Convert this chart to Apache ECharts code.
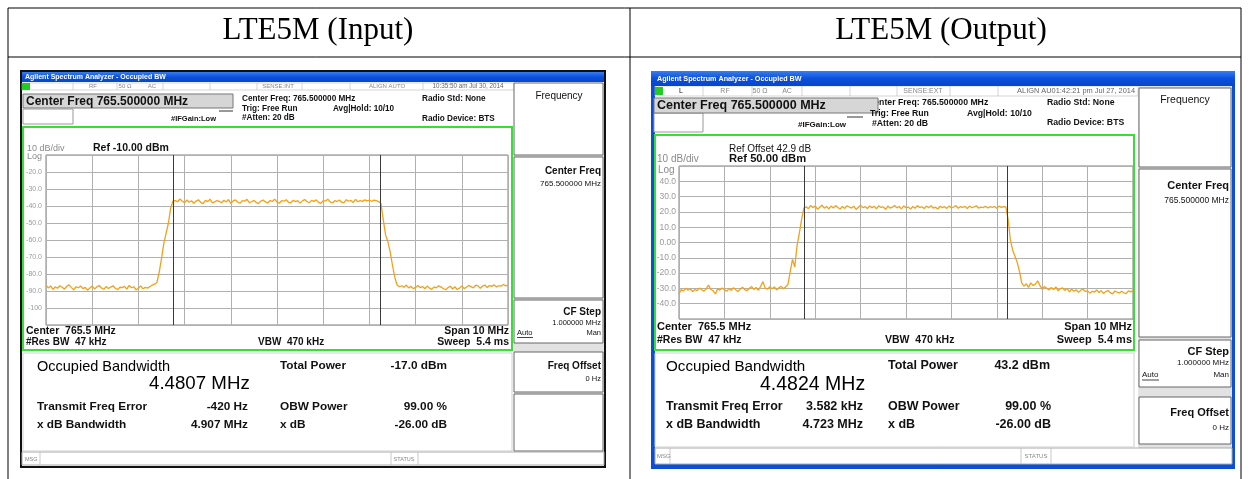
<!DOCTYPE html>
<html>
<head>
<meta charset="utf-8">
<title>LTE5M Occupied BW</title>
<script src="https://cdn.jsdelivr.net/npm/echarts@6/dist/echarts.min.js"></script>
<style>
  html, body { margin: 0; padding: 0; background: #fff; }
  #chart { width: 1249px; height: 479px; }
</style>
</head>
<body>
<div id="chart"></div>
<script>
// sweep: 10 MHz span around 765.5 MHz, one point every 50 kHz (201 points)
const spanMHz = 10;
const stepMHz = 0.05;

// input trace, dBm
const inputLevels = [
  -86.5,-88.2,-87.0,-89.1,-87.6,-88.4,-86.9,-87.8,-88.9,-87.2,
  -86.4,-88.0,-89.3,-87.5,-88.1,-87.0,-88.6,-87.9,-89.5,-88.3,
  -87.1,-88.8,-87.6,-86.8,-88.2,-89.0,-87.4,-88.5,-87.7,-86.9,
  -88.4,-89.2,-87.8,-88.0,-87.3,-88.9,-86.7,-88.1,-87.5,-89.4,
  -88.2,-87.0,-88.7,-87.9,-88.3,-87.4,-86.5,-86.0,
  -85.0,-79.0,-71.0,-62.0,-56.0,-50.0,-41.0,-37.0,
  -36.8,-37.5,-35.9,-37.2,-38.0,-36.5,-37.8,-36.9,-38.4,-37.1,
  -36.3,-37.9,-38.6,-36.7,-37.4,-36.0,-38.2,-37.6,-36.8,-37.3,
  -38.1,-36.6,-37.7,-36.2,-38.5,-37.0,-36.4,-37.8,-38.3,-36.9,
  -37.2,-36.1,-38.0,-37.5,-36.7,-37.9,-38.6,-37.1,-36.5,-37.6,
  -38.2,-36.8,-37.3,-36.0,-37.7,-38.4,-36.9,-37.2,-36.3,-37.8,
  -38.1,-36.6,-37.4,-36.9,-38.3,-37.0,-36.2,-37.5,-38.0,-36.7,
  -37.3,-36.4,-37.9,-38.5,-36.8,-37.1,-36.0,-37.6,-38.2,-36.9,
  -37.4,-36.5,-37.8,-38.0,-36.3,-37.2,-36.7,-37.9,-36.1,-37.5,
  -36.8,-37.3,-36.4,-37.0,-36.6,-37.2,-36.5,-36.9,-37.4,
  -38.5,-48.0,-57.0,-61.0,-67.0,-75.0,-82.0,-86.5,-87.5,
  -86.9,-87.8,-86.5,-88.2,-87.3,-88.6,-87.9,-86.8,-88.0,-87.4,
  -88.7,-87.1,-88.3,-89.0,-87.6,-88.1,-86.9,-87.7,-88.5,-89.3,
  -88.0,-87.2,-88.8,-87.5,-89.1,-88.3,-87.0,-88.6,-87.8,-86.7,
  -87.4,-88.2,-86.6,-87.0,-88.4,-87.1,-86.5,-87.9,-86.8,-87.3,
  -86.4,-87.6,-86.9,-87.2,-86.2,-87.0,-86.6
];

// output trace, dBm
const outputLevels = [
  -33.5,-30.8,-31.6,-29.9,-31.2,-30.4,-32.0,-30.7,-31.4,-29.8,
  -30.9,-31.8,-30.2,-27.9,-30.6,-31.5,-33.6,-30.3,-31.1,-29.7,
  -30.8,-31.9,-30.1,-31.3,-29.6,-30.9,-32.1,-30.4,-29.2,-30.8,
  -31.5,-29.9,-28.8,-30.7,-29.4,-31.2,-28.5,-25.6,-29.8,-30.5,
  -28.9,-30.3,-29.1,-31.0,-29.6,-28.7,-30.2,-29.0,
  -27.5,-19.0,-11.0,-16.0,-2.0,6.0,15.0,22.5,
  23.4,22.1,24.2,22.8,23.9,21.8,23.1,24.5,22.4,23.6,
  22.0,23.8,22.6,24.1,22.9,21.9,23.5,22.3,24.0,23.2,
  22.5,23.7,21.6,23.0,24.3,22.7,23.4,22.2,23.9,22.8,
  23.6,22.1,24.0,22.9,23.3,21.7,23.8,22.5,23.1,24.2,
  22.6,23.5,22.0,23.9,22.8,23.2,21.8,23.6,22.4,24.1,
  22.9,23.3,22.2,23.8,22.7,24.0,22.5,23.1,21.9,23.7,
  22.8,23.4,22.3,23.9,22.6,23.2,24.1,22.4,23.5,22.9,
  23.6,22.2,23.8,22.7,23.3,24.0,22.5,23.1,22.8,23.7,
  22.6,23.4,22.9,23.6,22.3,23.8,23.0,23.5,23.2,
  15.0,1.5,-5.0,-9.0,-13.0,-19.0,-26.5,-28.5,-27.0,
  -29.3,-26.4,-28.1,-27.2,-25.0,-28.0,-30.6,-28.7,-29.9,-31.1,
  -29.4,-30.8,-29.0,-31.5,-30.2,-29.7,-31.3,-30.0,-32.2,-30.5,
  -31.8,-30.9,-32.6,-31.2,-30.4,-32.0,-31.6,-33.1,-31.9,-32.4,
  -31.0,-32.7,-31.5,-33.3,-32.1,-31.4,-32.8,-33.6,-31.7,-32.5,
  -33.0,-31.8,-32.9,-33.4,-31.6,-32.3,-31.2
];

// occupied bandwidth (MHz) -> marker lines at +-obw/2
const inputObw = 4.4807;
const outputObw = 4.4824;

// y scales (ref level at top, 10 dB/div)
const inputRange = [-110, -10];
const outputRange = [-50, 50];

const FONT = '"Liberation Sans", Arial, sans-serif';
const SERIF = '"Liberation Serif", "Times New Roman", serif';

function toPoints(levels) {
  return levels.map((v, i) => [-spanMHz / 2 + i * stepMHz, v]);
}

// small helpers for the screen furniture
function T(x, y, text, size, o) {
  o = o || {};
  const al = o.align || 'left';
  return {
    type: 'text', x: x, y: y, z: o.z || 100, silent: true,
    style: {
      text: text,
      font: (o.bold ? 'bold ' : '') + size + 'px ' + (o.family || FONT),
      fill: o.color || '#111',
      align: al, textAlign: al,
      verticalAlign: 'middle', textVerticalAlign: 'middle'
    }
  };
}
function R(x, y, w, h, fill, stroke, lw, z) {
  return {
    type: 'rect', z: z == null ? -10 : z, silent: true,
    shape: { x: x, y: y, width: w, height: h },
    style: { fill: fill || 'none', stroke: stroke || 'none', lineWidth: lw || 1 }
  };
}
function L(x1, y1, x2, y2, stroke, lw, z) {
  return {
    type: 'line', z: z == null ? 50 : z, silent: true,
    shape: { x1: x1, y1: y1, x2: x2, y2: y2 },
    style: { stroke: stroke || '#000', lineWidth: lw || 1 }
  };
}
function blueBar(x, y, w, h) {
  return {
    type: 'rect', z: -5, silent: true,
    shape: { x: x, y: y, width: w, height: h },
    style: {
      fill: new echarts.graphic.LinearGradient(0, 0, 0, 1, [
        { offset: 0, color: '#3a7cf0' },
        { offset: 0.5, color: '#0a50dc' },
        { offset: 1, color: '#0846c8' }
      ])
    }
  };
}

const gfx = [];

// ---- table ----
gfx.push(R(8, 8, 1233, 490, 'none', '#000', 1, 60));
gfx.push(L(8, 57, 1241, 57, '#000', 1));
gfx.push(L(630, 8, 630, 479, '#000', 1));
gfx.push(T(318, 31, 'LTE5M (Input)', 31, { align: 'center', family: SERIF, color: '#000' }));
gfx.push(T(941, 31, 'LTE5M (Output)', 31, { align: 'center', family: SERIF, color: '#000' }));

// ---- left screen (input) ----
gfx.push(R(21, 71, 584, 396, '#fff', '#111', 2, -20));
gfx.push(blueBar(22, 72, 582, 10));
gfx.push(T(25, 77, 'Agilent Spectrum Analyzer - Occupied BW', 7, { bold: true, color: '#fff' }));
gfx.push(R(22, 83, 492, 7, '#fff', '#bbb', 0.6));
gfx.push(R(22, 83, 8, 7, '#22cc22', null, 1, -4));
[73, 117, 163, 210, 257, 302, 350, 423].forEach(x => gfx.push(L(x, 83, x, 90, '#bbb', 0.6)));
gfx.push(T(93, 86.5, 'RF', 6, { align: 'center', color: '#888' }));
gfx.push(T(125, 86.5, '50 Ω', 6, { align: 'center', color: '#888' }));
gfx.push(T(152, 86.5, 'AC', 6, { align: 'center', color: '#888' }));
gfx.push(T(278, 86.5, 'SENSE:INT', 6, { align: 'center', color: '#888' }));
gfx.push(T(387, 86.5, 'ALIGN AUTO', 6, { align: 'center', color: '#888' }));
gfx.push(T(468, 86.5, '10:35:50 am Jul 30, 2014', 6.3, { align: 'center', color: '#666' }));
gfx.push(R(23, 94, 210, 14, '#d6d6d6', '#777', 1, -4));
gfx.push(T(26, 101.5, 'Center Freq 765.500000 MHz', 12, { bold: true }));
gfx.push(R(23, 109, 50, 15, '#fff', '#999', 1, -4));
gfx.push(T(171, 119, '#IFGain:Low', 7.5, { bold: true }));
gfx.push(L(219, 111, 233, 111, '#333', 1));
gfx.push(T(242, 99, 'Center Freq: 765.500000 MHz', 8.2, { bold: true }));
gfx.push(T(242, 108.5, 'Trig: Free Run', 8.2, { bold: true }));
gfx.push(T(242, 118, '#Atten: 20 dB', 8.2, { bold: true }));
gfx.push(T(333, 108.5, 'Avg|Hold: 10/10', 8.2, { bold: true }));
gfx.push(T(422, 99, 'Radio Std: None', 8.2, { bold: true }));
gfx.push(T(422, 118.5, 'Radio Device: BTS', 8.2, { bold: true }));
// softkeys
gfx.push(R(514, 83, 90, 369, '#e2e2e2', null, 1, -8));
gfx.push(R(514, 83, 89, 72, '#fff', '#666', 1, -4));
gfx.push(T(559, 96, 'Frequency', 10, { align: 'center' }));
gfx.push(R(514, 157, 89, 141, '#fff', '#666', 1, -4));
gfx.push(T(601, 171, 'Center Freq', 10, { align: 'right', bold: true }));
gfx.push(T(601, 184, '765.500000 MHz', 8, { align: 'right' }));
gfx.push(R(514, 300, 89, 43, '#fff', '#666', 1, -4));
gfx.push(T(601, 312, 'CF Step', 10, { align: 'right', bold: true }));
gfx.push(T(601, 323, '1.000000 MHz', 7.5, { align: 'right' }));
gfx.push(T(517, 333, 'Auto', 7.5));
gfx.push(L(517, 337.5, 533, 337.5, '#111', 0.8));
gfx.push(T(601, 333, 'Man', 7.5, { align: 'right' }));
gfx.push(R(514, 352, 89, 40, '#fff', '#666', 1, -4));
gfx.push(T(601, 366, 'Freq Offset', 10, { align: 'right', bold: true }));
gfx.push(T(601, 379, '0 Hz', 7.5, { align: 'right' }));
gfx.push(R(514, 394, 89, 57, '#fff', '#666', 1, -4));
// message row
gfx.push(R(22, 452, 582, 13, '#fff', '#aaa', 1, -4));
[40, 391, 418].forEach(x => gfx.push(L(x, 452, x, 465, '#bbb', 0.8)));
gfx.push(T(25, 459, 'MSG', 5.5, { color: '#888' }));
gfx.push(T(404, 459, 'STATUS', 5.5, { align: 'center', color: '#888' }));
// trace frame
gfx.push(R(23, 127, 489, 223, null, '#33e033', 2, 60));
gfx.push(R(23, 353, 489, 98, null, '#cfcfcf', 1, -4));
gfx.push(T(27, 149, '10 dB/div', 9, { color: '#8a8a8a' }));
gfx.push(T(27, 157, 'Log', 9, { color: '#8a8a8a' }));
gfx.push(T(93, 148, 'Ref -10.00 dBm', 10.5, { bold: true }));
gfx.push(T(26, 331, 'Center  765.5 MHz', 10.5, { bold: true }));
gfx.push(T(26, 342, '#Res BW  47 kHz', 10, { bold: true }));
gfx.push(T(258, 342, 'VBW  470 kHz', 10, { bold: true }));
gfx.push(T(509, 331, 'Span 10 MHz', 10.5, { bold: true, align: 'right' }));
gfx.push(T(509, 342, 'Sweep  5.4 ms', 10.5, { bold: true, align: 'right' }));
// measurement results
gfx.push(T(37, 367, 'Occupied Bandwidth', 14.5, { color: '#000' }));
gfx.push(T(149, 384, '4.4807 MHz', 18.7, { color: '#000' }));
gfx.push(T(37, 407, 'Transmit Freq Error', 11.8, { bold: true }));
gfx.push(T(248, 407, '-420 Hz', 11.8, { bold: true, align: 'right' }));
gfx.push(T(37, 425, 'x dB Bandwidth', 11.8, { bold: true }));
gfx.push(T(248, 425, '4.907 MHz', 11.8, { bold: true, align: 'right' }));
gfx.push(T(280, 366, 'Total Power', 11.8, { bold: true }));
gfx.push(T(447, 366, '-17.0 dBm', 11.8, { bold: true, align: 'right' }));
gfx.push(T(280, 407, 'OBW Power', 11.8, { bold: true }));
gfx.push(T(447, 407, '99.00 %', 11.8, { bold: true, align: 'right' }));
gfx.push(T(280, 425, 'x dB', 11.8, { bold: true }));
gfx.push(T(447, 425, '-26.00 dB', 11.8, { bold: true, align: 'right' }));

// ---- right screen (output) ----
gfx.push(R(651, 71, 584, 398, '#0b4fd6', null, 1, -30));
gfx.push(R(655, 86, 577, 378, '#fff', null, 1, -20));
gfx.push(blueBar(651, 71, 584, 15));
gfx.push(T(657, 79, 'Agilent Spectrum Analyzer - Occupied BW', 7.2, { bold: true, color: '#fff' }));
gfx.push(R(655, 86, 483, 10, '#fff', '#bbb', 0.6));
gfx.push(R(655, 87, 8, 8, '#22cc22', null, 1, -4));
[703, 752, 802, 850, 897, 950, 998].forEach(x => gfx.push(L(x, 86, x, 96, '#bbb', 0.6)));
gfx.push(T(679, 91, 'L', 7));
gfx.push(T(725, 91, 'RF', 7, { align: 'center', color: '#888' }));
gfx.push(T(760, 91, '50 Ω', 7, { align: 'center', color: '#888' }));
gfx.push(T(787, 91, 'AC', 7, { align: 'center', color: '#888' }));
gfx.push(T(923, 91, 'SENSE:EXT', 7, { align: 'center', color: '#888' }));
gfx.push(T(1135, 91, 'ALIGN AU01:42:21 pm Jul 27, 2014', 7.4, { align: 'right', color: '#666' }));
// partly hidden behind the Center Freq box, as on the screen
gfx.push(T(868, 103, 'Center Freq: 765.500000 MHz', 8.7, { bold: true, z: 80 }));
gfx.push(R(654, 98, 224, 15, '#d6d6d6', '#777', 1, 90));
gfx.push(T(657, 106, 'Center Freq 765.500000 MHz', 12.5, { bold: true, z: 95 }));
gfx.push(R(654, 113, 49, 19, '#fff', '#999', 1, -4));
gfx.push(T(798, 125, '#IFGain:Low', 8, { bold: true }));
gfx.push(L(847, 117, 863, 117, '#333', 1));
gfx.push(T(870, 113.5, 'Trig: Free Run', 8.7, { bold: true }));
gfx.push(T(872, 124, '#Atten: 20 dB', 8.7, { bold: true }));
gfx.push(T(967, 113.5, 'Avg|Hold: 10/10', 8.7, { bold: true }));
gfx.push(T(1047, 103, 'Radio Std: None', 8.7, { bold: true }));
gfx.push(T(1047, 123, 'Radio Device: BTS', 8.7, { bold: true }));
// softkeys
gfx.push(R(1138, 86, 94, 362, '#e2e2e2', null, 1, -8));
gfx.push(R(1139, 88, 92, 79, '#fff', '#666', 1, -4));
gfx.push(T(1185, 100, 'Frequency', 10.5, { align: 'center' }));
gfx.push(R(1139, 169, 92, 168, '#fff', '#666', 1, -4));
gfx.push(T(1229, 186, 'Center Freq', 11, { align: 'right', bold: true }));
gfx.push(T(1229, 201, '765.500000 MHz', 8.5, { align: 'right' }));
gfx.push(R(1139, 340, 92, 47, '#fff', '#666', 1, -4));
gfx.push(T(1229, 352, 'CF Step', 11, { align: 'right', bold: true }));
gfx.push(T(1229, 363, '1.000000 MHz', 8, { align: 'right' }));
gfx.push(T(1142, 375, 'Auto', 8));
gfx.push(L(1142, 380, 1159, 380, '#111', 0.8));
gfx.push(T(1229, 375, 'Man', 8, { align: 'right' }));
gfx.push(R(1139, 397, 92, 47, '#fff', '#666', 1, -4));
gfx.push(T(1229, 413, 'Freq Offset', 11, { align: 'right', bold: true }));
gfx.push(T(1229, 428, '0 Hz', 8, { align: 'right' }));
// message row
gfx.push(R(655, 448, 577, 16, '#fff', '#aaa', 1, -4));
[670, 1021, 1051].forEach(x => gfx.push(L(x, 448, x, 464, '#bbb', 0.8)));
gfx.push(T(657, 456, 'MSG', 6, { color: '#888' }));
gfx.push(T(1036, 456, 'STATUS', 6, { align: 'center', color: '#888' }));
// trace frame
gfx.push(R(655, 135, 479, 215, null, '#33e033', 2, 60));
gfx.push(R(655, 353, 479, 94, null, '#cfcfcf', 1, -4));
gfx.push(T(729, 149, 'Ref Offset 42.9 dB', 10));
gfx.push(T(657, 159, '10 dB/div', 10, { color: '#8a8a8a' }));
gfx.push(T(729, 159, 'Ref 50.00 dBm', 11.2, { bold: true }));
gfx.push(T(658, 170, 'Log', 10, { color: '#8a8a8a' }));
gfx.push(T(657, 327, 'Center  765.5 MHz', 11, { bold: true }));
gfx.push(T(657, 340, '#Res BW  47 kHz', 10.5, { bold: true }));
gfx.push(T(885, 340, 'VBW  470 kHz', 10.5, { bold: true }));
gfx.push(T(1132, 327, 'Span 10 MHz', 11, { bold: true, align: 'right' }));
gfx.push(T(1132, 340, 'Sweep  5.4 ms', 11, { bold: true, align: 'right' }));
// measurement results
gfx.push(T(666, 367, 'Occupied Bandwidth', 15.2, { color: '#000' }));
gfx.push(T(760, 385, '4.4824 MHz', 19.5, { color: '#000' }));
gfx.push(T(666, 407, 'Transmit Freq Error', 12.5, { bold: true }));
gfx.push(T(863, 407, '3.582 kHz', 12.5, { bold: true, align: 'right' }));
gfx.push(T(666, 425, 'x dB Bandwidth', 12.5, { bold: true }));
gfx.push(T(863, 425, '4.723 MHz', 12.5, { bold: true, align: 'right' }));
gfx.push(T(888, 366, 'Total Power', 12.5, { bold: true }));
gfx.push(T(1050, 366, '43.2 dBm', 12.5, { bold: true, align: 'right' }));
gfx.push(T(888, 407, 'OBW Power', 12.5, { bold: true }));
gfx.push(T(1051, 407, '99.00 %', 12.5, { bold: true, align: 'right' }));
gfx.push(T(888, 425, 'x dB', 12.5, { bold: true }));
gfx.push(T(1051, 425, '-26.00 dB', 12.5, { bold: true, align: 'right' }));

function xAxisFor(gi) {
  return {
    type: 'value', gridIndex: gi, min: -spanMHz / 2, max: spanMHz / 2, interval: 1,
    axisLine: { show: false }, axisTick: { show: false }, axisLabel: { show: false },
    splitLine: { show: true, lineStyle: { color: '#b0b0b0', width: 1 } }
  };
}
function yAxisFor(gi, range, size, margin) {
  return {
    type: 'value', gridIndex: gi, min: range[0], max: range[1], interval: 10,
    axisLine: { show: false }, axisTick: { show: false },
    axisLabel: {
      show: true, showMinLabel: false, showMaxLabel: false,
      formatter: v => v.toPrecision(3),
      color: '#9a9a9a', fontSize: size, fontFamily: FONT, margin: margin
    },
    splitLine: { show: true, lineStyle: { color: '#b0b0b0', width: 1 } }
  };
}
function traceSeries(gi, levels, obw) {
  return {
    type: 'line', xAxisIndex: gi, yAxisIndex: gi,
    data: toPoints(levels),
    showSymbol: false, symbol: 'none', silent: true,
    lineStyle: { color: '#f5a019', width: 1.3 },
    z: 3,
    markLine: {
      silent: true, symbol: ['none', 'none'], label: { show: false },
      lineStyle: { color: '#3a3a3a', width: 1, type: 'solid' },
      data: [{ xAxis: -obw / 2 }, { xAxis: obw / 2 }]
    }
  };
}

const chart = echarts.init(document.getElementById('chart'));
const option = {
  animation: false,
  backgroundColor: '#fff',
  grid: [
    { left: 46, top: 155, width: 462, height: 170, show: true, borderColor: '#808080', borderWidth: 1, backgroundColor: 'transparent' },
    { left: 679, top: 166, width: 454, height: 153, show: true, borderColor: '#808080', borderWidth: 1, backgroundColor: 'transparent' }
  ],
  xAxis: [xAxisFor(0), xAxisFor(1)],
  yAxis: [yAxisFor(0, inputRange, 7, 4), yAxisFor(1, outputRange, 8.5, 3)],
  series: [
    traceSeries(0, inputLevels, inputObw),
    traceSeries(1, outputLevels, outputObw)
  ],
  graphic: { elements: gfx }
};
chart.setOption(option);
</script>
</body>
</html>
